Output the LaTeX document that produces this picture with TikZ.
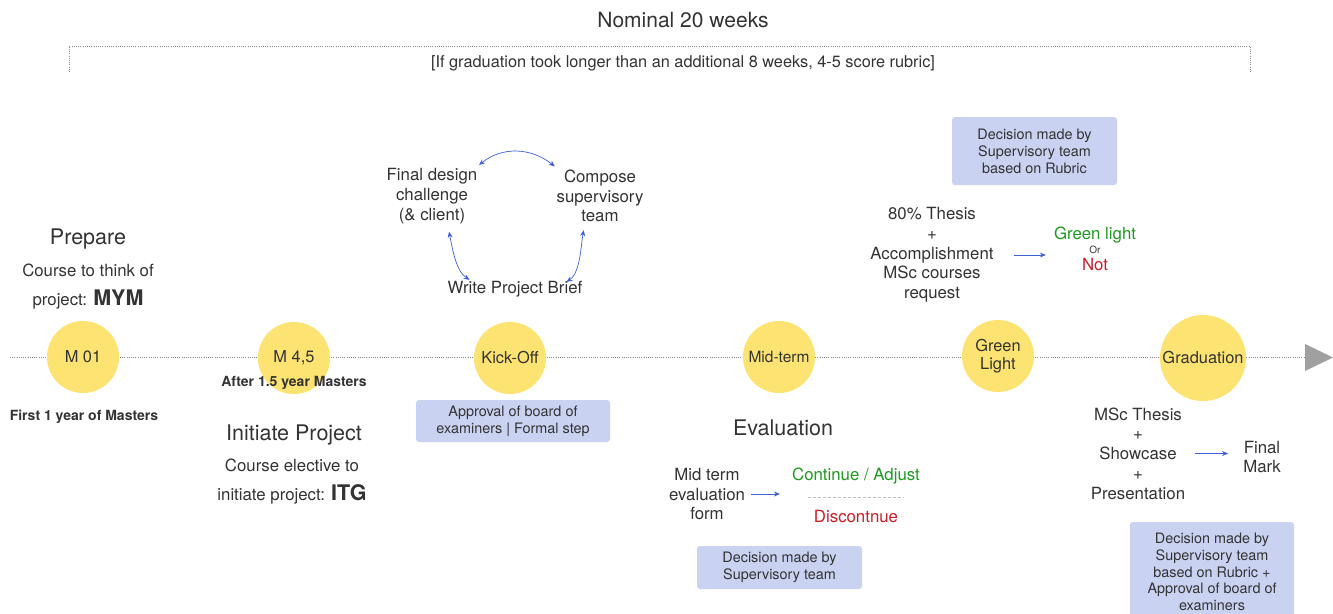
\documentclass[tikz,border=0pt]{standalone}
\usepackage{fontspec}
\setmainfont{TeX Gyre Heros}
\usetikzlibrary{arrows.meta}

\definecolor{ink}{HTML}{333333}
\definecolor{milestone}{HTML}{FDE372}
\definecolor{notefill}{HTML}{C9D2F1}
\definecolor{flowblue}{HTML}{3E5FD6}
\definecolor{okgreen}{HTML}{1F9A1F}
\definecolor{stopred}{HTML}{C81E28}
\definecolor{railgray}{HTML}{8A8A8A}
\definecolor{tipgray}{HTML}{A0A0A0}

\newcommand\fsz[2]{\fontsize{#1}{#2}\selectfont}

\begin{document}
\begin{tikzpicture}[x=1pt,y=-1pt,
  txt/.style={align=center,text=ink,inner sep=2pt,font=\fsz{16.8}{19.7}},
  heading/.style={txt,font=\fsz{21.5}{24}},
  small/.style={txt,font=\fsz{14}{16}\bfseries},
  stone/.style={circle,fill=milestone,minimum size=72pt,inner sep=0pt,
    align=center,text=ink,font=\fsz{16.4}{18}},
  note/.style={fill=notefill,rounded corners=3pt,align=center,text=ink,
    inner sep=0pt,font=\fsz{14.4}{17}},
  flow/.style={draw=flowblue,line width=0.7pt,-{Stealth[length=6pt,width=5pt]}},
  loop/.style={draw=flowblue,line width=0.7pt,
    {Stealth[length=6pt,width=5pt]}-{Stealth[length=6pt,width=5pt]}},
  rail/.style={draw=railgray,line width=1pt,dash pattern=on 1pt off 1.2pt},
  bracket/.style={draw=railgray,line width=0.9pt,dash pattern=on 1pt off 1.2pt},
  sepline/.style={draw=black!25,line width=0.8pt,dash pattern=on 3pt off 2pt}]

\clip (0,0) rectangle (1333,613);
\fill[white] (0,0) rectangle (1333,613);

% overall duration bracket
\node[txt,font=\fsz{21}{24}] (nominal) at (683,20) {Nominal 20 weeks};
\draw[bracket] (69,72) -- (69,46) -- (1250,46) -- (1250,72);
\node[txt,font=\fsz{16.3}{18}] (extension) at (683,63)
  {[If graduation took longer than an additional 8 weeks, 4-5 score rubric]};

% timeline rail with arrow head
\coordinate (railstart) at (10,357);
\coordinate (railend) at (1305,357);
\draw[rail] (railstart) -- (railend);
\fill[tipgray] (1305,344) -- (1333,357.5) -- (1305,371) -- cycle;

% milestones
\node[stone] (m01) at (83,357) {M 01};
\node[stone] (m45) at (294,358) {M 4,5};
\node[stone] (kick) at (510,358) {Kick-Off};
\node[stone,font=\fsz{15.5}{18}] (mid) at (779,357) {Mid-term};
\node[stone] (green) at (998,356) {Green\\Light};
\node[stone,minimum size=86pt] (grad) at (1203,358) {Graduation};

% M 01
\node[heading] (prepT) at (88,239) {Prepare};
\node[txt] (prepA) at (88,270) {Course to think of};
\node[txt] (prepB) at (88,299) {project: {\fsz{21.5}{24}\bfseries MYM}};
\node[small] (m01note) at (84,417) {First 1 year of Masters};

% M 4,5
\node[small] (m45note) at (294,383) {After 1.5 year Masters};
\node[heading] (initT) at (294,435) {Initiate Project};
\node[txt] (initA) at (292,465) {Course elective to};
\node[txt] (initB) at (292,494) {initiate project: {\fsz{21.5}{24}\bfseries ITG}};

% Kick-Off preparation loop
\node[txt] (fdc) at (432,196) {Final design\\challenge\\(\&~client)};
\node[txt] (csp) at (600,196) {Compose\\supervisory\\team};
\node[txt] (wpb) at (515,289) {Write Project Brief};
\draw[loop,shorten <=2pt,shorten >=2pt] ([xshift=-2pt]fdc.north east)
  .. controls +(25,-20) and +(-25,-20) .. ([xshift=2pt]csp.north west);
\draw[loop,shorten <=6pt] (fdc.-62)
  .. controls +(4,20) and +(-14,-9) .. ([xshift=24pt,yshift=-1pt]wpb.north west);
\draw[loop,shorten <=6pt] (csp.-118)
  .. controls +(-4,20) and +(14,-9) .. ([xshift=-18pt,yshift=-3pt]wpb.north east);
\node[note,minimum width=194pt,minimum height=42pt] (kicknote) at (513,421)
  {Approval of board of\\examiners | Formal step};

% Mid-term evaluation
\node[heading] (evalT) at (783,428) {Evaluation};
\node[txt] (mtf) at (707,494) {Mid term\\evaluation\\form};
\node[txt,text=okgreen] (cont) at (856,476) {Continue / Adjust};
\node[txt,text=stopred] (disc) at (856,516) {Discontnue};
\draw[sepline] (808,497) -- (904,497);
\draw[flow,shorten <=4pt] (mtf.east) -- ([xshift=-10pt]mtf.east -| cont.west);
\node[note,minimum width=165pt,minimum height=43pt] (midnote) at (779.5,567.5)
  {Decision made by\\Supervisory team};

% Green Light
\node[note,minimum width=165pt,minimum height=68pt] (greennote) at (1034.5,151)
  {Decision made by\\Supervisory team\\based on Rubric};
\node[txt] (gl80) at (932,255)
  {80\% Thesis\\+\\Accomplishment\\MSc courses\\request};
\node[txt,align=center] (glout) at (1095,249)
  {\textcolor{okgreen}{Green light}\\[-6pt]{\fsz{10}{11}Or}\\[-3pt]\textcolor{stopred}{Not}};
\draw[flow,shorten <=18pt,shorten >=6pt] (gl80.east) -- (gl80.east -| glout.west);

% Graduation
\node[txt] (grin) at (1138,453.5)
  {MSc Thesis\\+\\Showcase\\+\\Presentation};
\node[txt] (fmark) at (1262,457) {Final\\Mark};
\draw[flow,shorten <=8pt,shorten >=13pt] (grin.east) -- (grin.east -| fmark.west);
\node[note,minimum width=164pt,minimum height=100pt,font=\fsz{14.4}{16.7}] (gradnote)
  at (1212,572) {Decision made by\\Supervisory team\\based on Rubric +\\Approval of board of\\examiners};

\end{tikzpicture}
\end{document}
